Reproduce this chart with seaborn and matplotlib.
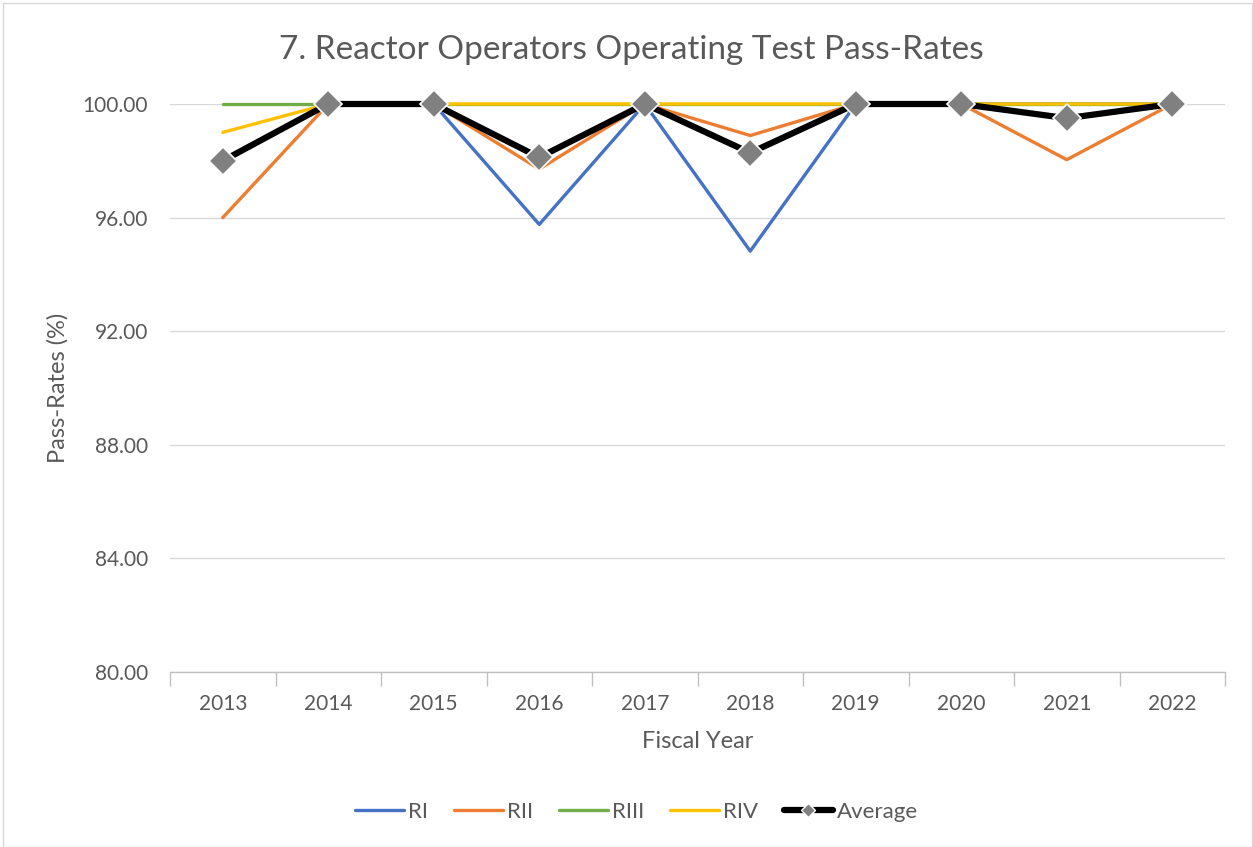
import numpy as np
import pandas as pd
import matplotlib
matplotlib.use("Agg")
import matplotlib.pyplot as plt
from matplotlib.lines import Line2D
from matplotlib.patches import Rectangle
import seaborn as sns

years = ["2013", "2014", "2015", "2016", "2017", "2018", "2019", "2020", "2021", "2022"]
ri = [np.nan, 100, 100, 95.76, 100, 94.82, 100, 100, 100, 100]
rii = [96.0, 100, 100, 97.71, 100, 98.89, 100, 100, 98.04, 100]
riii = [100, 100, 100, 100, 100, 100, 100, 100, 100, 100]
riv = [99.0, 100, 100, 100, 100, 100, 100, 100, 100, 100]
average = [98.0, 100, 100, 98.12, 100, 98.28, 100, 100, 99.5, 100]
series_names = ["RI", "RII", "RIII", "RIV"]
colors = ["#4472C4", "#ED7D31", "#70AD47", "#FFC000"]
yticks = [80, 84, 88, 92, 96, 100]

sns.set_theme(style="white")
plt.rcParams['font.family'] = ['Lato', 'DejaVu Sans']

rows = []
for name, vals in zip(series_names, [ri, rii, riii, riv]):
    for i, v in enumerate(vals):
        rows.append({"x": i, "val": v, "series": name})
df = pd.DataFrame(rows)
avg_df = pd.DataFrame({"x": range(len(years)), "val": average})

fig = plt.figure(figsize=(12.53, 8.47), dpi=100)
ax = fig.add_axes([170/1253, 1-672/847, (1225-170)/1253, (672-104)/847])

sns.lineplot(data=df, x="x", y="val", hue="series", palette=dict(zip(series_names, colors)),
             linewidth=2.4, ax=ax, legend=False, clip_on=False)
sns.lineplot(data=avg_df, x="x", y="val", color="black", linewidth=4.5, marker="D",
             markersize=14, markerfacecolor="#808080", markeredgecolor="white",
             markeredgewidth=1.2, ax=ax, legend=False, clip_on=False, zorder=5)

ax.set_xlim(-0.5, len(years) - 0.5)
ax.set_ylim(80, 100)
ax.set_yticks(yticks)
ax.set_yticklabels([f"{t:.2f}" for t in yticks], fontsize=15, color="#595959")
ax.set_xticks(range(len(years)))
ax.set_xticklabels(years, fontsize=15, color="#595959")
ax.set_xticks(np.arange(-0.5, len(years)), minor=True)
ax.tick_params(axis="x", which="major", length=0, pad=16)
ax.tick_params(axis="x", which="minor", length=10, color="#BFBFBF", width=1, bottom=True)
ax.tick_params(axis="y", length=0, pad=16)
ax.grid(axis="y", color="#D9D9D9", linewidth=1)
ax.set_axisbelow(True)
for s in ["top", "right", "left"]:
    ax.spines[s].set_visible(False)
ax.spines["bottom"].set_color("#BFBFBF")
ax.spines["bottom"].set_linewidth(1)

ax.set_xlabel("Fiscal Year", fontsize=17, color="#595959", labelpad=12)
ax.set_ylabel("Pass-Rates (%)", fontsize=17, color="#595959", labelpad=10)
fig.text(631/1253, 1-50/847, "7. Reactor Operators Operating Test Pass-Rates",
         ha="center", va="center", fontsize=24, color="#595959")

handles = [Line2D([0], [0], color=c, lw=2.4) for c in colors]
handles.append(Line2D([0], [0], color="black", lw=4.5, marker="D", markersize=7,
                      markerfacecolor="#808080", markeredgecolor="white"))
fig.legend(handles, series_names + ["Average"], loc="center", bbox_to_anchor=(0.508, 1-812/847),
           ncol=5, frameon=False, fontsize=16, handlelength=2.2, columnspacing=1.15,
           handletextpad=0.2, labelcolor="#595959")

fig.add_artist(Rectangle((3/1253, 0), 1-4/1253, 1-3/847, transform=fig.transFigure,
                         fill=False, edgecolor="#D9D9D9", linewidth=1))

fig.savefig("out.png", dpi=100)
